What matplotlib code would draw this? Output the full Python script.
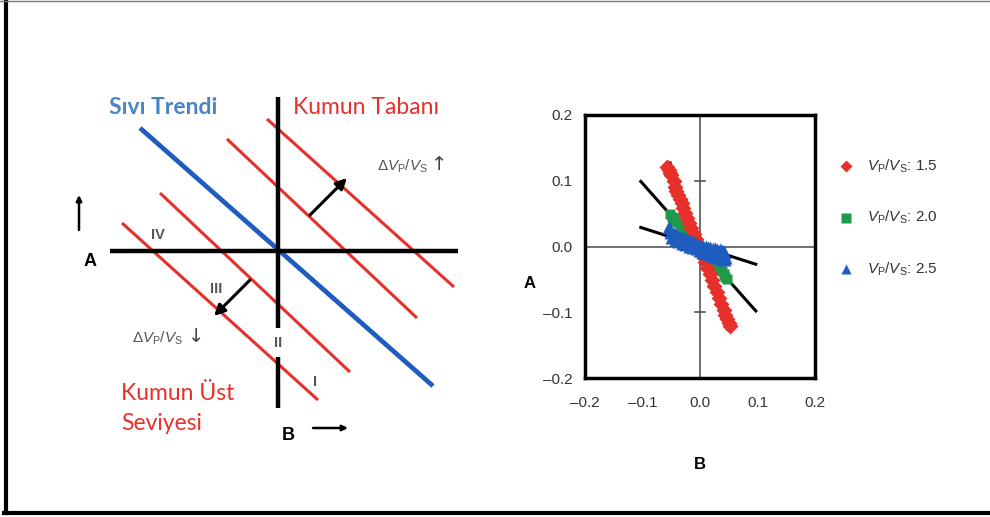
import matplotlib.pyplot as plt
from matplotlib.lines import Line2D

plt.rcParams['mathtext.fontset'] = 'custom'
plt.rcParams['mathtext.rm'] = 'Liberation Sans'
plt.rcParams['mathtext.it'] = 'Liberation Sans:italic'
plt.rcParams['mathtext.bf'] = 'Liberation Sans:bold'
plt.rcParams['font.family'] = ['Liberation Sans', 'DejaVu Sans']

# ---- şematik (sol panel) ----
eksen_yatay = ([-1.68, 1.80], [0.0, 0.0])
eksen_dikey_ust = ([0.0, 0.0], [1.54, -0.77])
eksen_dikey_alt = ([0.0, 0.0], [-1.06, -1.57])
sivi_trend = ([-1.38, 1.55], [1.23, -1.35])
kum_cizgileri = [
    ([-0.11, 1.76], [1.32, -0.36]),
    ([-0.51, 1.39], [1.12, -0.67]),
    ([-1.18, 0.72], [0.58, -1.21]),
    ([-1.56, 0.40], [0.28, -1.49]),
]
ok_artis = ((0.32, 0.36), (0.69, 0.73))
ok_azalis = ((-0.28, -0.29), (-0.64, -0.65))
bolge_adlari = ['IV', 'III', 'II', 'I']
bolge_x = [-1.20, -0.62, 0.0, 0.37]
bolge_y = [0.16, -0.38, -0.92, -1.31]

# ---- Vp/Vs verileri (sağ panel) ----
kirmizi_x = [-0.057, -0.054, -0.052, -0.050, -0.046, -0.043, -0.041, -0.038, -0.035,
             -0.032, -0.029, -0.026, -0.022, -0.019, -0.015, -0.011, -0.007, -0.003,
             0.001, 0.005, 0.009, 0.013, 0.017, 0.021, 0.025, 0.029, 0.033, 0.037,
             0.041, 0.044, 0.047, 0.050, 0.052]
kirmizi_y = [0.121, 0.117, 0.112, 0.108, 0.100, 0.090, 0.084, 0.079, 0.072,
             0.066, 0.058, 0.051, 0.044, 0.036, 0.028, 0.019, 0.011, 0.002,
             -0.006, -0.015, -0.024, -0.033, -0.042, -0.051, -0.060, -0.069, -0.079, -0.088,
             -0.097, -0.104, -0.110, -0.116, -0.121]
yesil_x = [-0.052, -0.049, -0.046, -0.043, -0.040, -0.037, -0.034, -0.031, -0.028,
           -0.025, -0.022, -0.018, -0.014, -0.010, -0.006, -0.002, 0.002, 0.006,
           0.010, 0.014, 0.018, 0.022, 0.026, 0.030, 0.034, 0.038, 0.041, 0.044, 0.047]
yesil_y = [0.050, 0.045, 0.044, 0.041, 0.038, 0.037, 0.033, 0.030, 0.028,
           0.024, 0.021, 0.017, 0.013, 0.009, 0.005, 0.001, -0.003, -0.007,
           -0.011, -0.014, -0.019, -0.022, -0.026, -0.030, -0.034, -0.038, -0.042, -0.046, -0.049]
mavi_x = [-0.054, -0.050, -0.046, -0.042, -0.038, -0.034, -0.030, -0.026, -0.022,
          -0.018, -0.014, -0.010, -0.006, -0.002, 0.002, 0.006, 0.010, 0.014,
          0.018, 0.022, 0.026, 0.030, 0.034, 0.038, 0.042,
          -0.048, -0.042, -0.036, -0.030, -0.024, -0.018, -0.012, -0.006, 0.000,
          0.006, 0.012, 0.018, 0.024, 0.030, 0.036, 0.041, 0.044]
mavi_y = [0.030, 0.022, 0.019, 0.017, 0.015, 0.014, 0.013, 0.011, 0.010,
          0.008, 0.007, 0.006, 0.004, 0.003, 0.001, 0.000, -0.001, -0.002,
          -0.003, -0.004, -0.004, -0.005, -0.006, -0.007, -0.008,
          0.014, 0.011, 0.008, 0.006, 0.004, 0.001, -0.001, -0.003, -0.005,
          -0.008, -0.010, -0.012, -0.014, -0.016, -0.017, -0.019, -0.016]
# regresyon doğruları (uç noktalar)
dogru_x = [[-0.052, 0.047], [-0.103, 0.097], [-0.103, 0.097]]
dogru_y = [[0.127, -0.125], [0.099, -0.098], [0.029, -0.027]]
oranlar = ['1.5', '2.0', '2.5']
tikler = [-0.2, -0.1, 0.0, 0.1, 0.2]

KIRMIZI = '#e8302a'
MAVI = '#1f5cbf'
YESIL = '#1f9a4a'
GRI = '#333333'

fig = plt.figure(figsize=(9.9, 5.17), dpi=100)

# çerçeve
fig.add_artist(Line2D([6/990, 6/990], [1 - 2/517, 1 - 513/517], color='k', lw=3))
fig.add_artist(Line2D([4/990, 1], [1 - 513/517, 1 - 513/517], color='k', lw=3))
fig.add_artist(Line2D([0, 1], [1 - 1/517, 1 - 1/517], color='#777777', lw=1))

axL = fig.add_axes([60/990, 67/517, 410/990, 370/517])
axL.set_xlim(-2.18, 1.92)
axL.set_ylim(-1.99, 1.71)
axL.axis('off')

for xs, ys in kum_cizgileri:
    axL.plot(xs, ys, color=KIRMIZI, lw=2.2, solid_capstyle='butt')
axL.plot(*sivi_trend, color=MAVI, lw=3.4, solid_capstyle='butt')
for seg in (eksen_yatay, eksen_dikey_ust, eksen_dikey_alt):
    axL.plot(*seg, color='k', lw=3.2, solid_capstyle='butt')

for bas, son in (ok_artis, ok_azalis):
    axL.annotate('', xy=son, xytext=bas,
                 arrowprops=dict(arrowstyle='-|>', lw=2.2, color='k', mutation_scale=16,
                                 shrinkA=0, shrinkB=0))
# eksen yön okları
axL.annotate('', xy=(-1.99, 0.56), xytext=(-1.99, 0.21),
             arrowprops=dict(arrowstyle='-|>', lw=1.8, color='k', mutation_scale=8,
                             shrinkA=0, shrinkB=0))
axL.annotate('', xy=(0.70, -1.77), xytext=(0.35, -1.77),
             arrowprops=dict(arrowstyle='-|>', lw=1.8, color='k', mutation_scale=8,
                             shrinkA=0, shrinkB=0))

for ad, bx, by in zip(bolge_adlari, bolge_x, bolge_y):
    axL.text(bx, by, ad, color='#555555', fontsize=10.5, fontweight='bold',
             ha='center', va='center')

axL.text(-1.15, 1.43, 'Sıvı Trendi', color='#4a84c6', fontsize=16.5, fontweight='bold',
         family='Lato', ha='center', va='center')
axL.text(0.88, 1.43, 'Kumun Tabanı', color=KIRMIZI, fontsize=16.5, family='Lato',
         ha='center', va='center')
axL.text(-1.57, -1.42, 'Kumun Üst', color=KIRMIZI, fontsize=16.5, family='Lato',
         ha='left', va='center')
axL.text(-1.57, -1.72, 'Seviyesi', color=KIRMIZI, fontsize=16.5, family='Lato',
         ha='left', va='center')
axL.text(-1.88, -0.11, 'A', fontsize=13, fontweight='bold', ha='center', va='center')
axL.text(0.10, -1.84, 'B', fontsize=13, fontweight='bold', ha='center', va='center')
axL.text(0.99, 0.85, r'$\Delta V_{\rm P}/V_{\rm S}$', color='#555555', fontsize=11,
         ha='left', va='center')
axL.text(1.61, 0.87, '↑', color='#444444', fontsize=14, family='DejaVu Sans',
         ha='center', va='center')
axL.text(-1.46, -0.87, r'$\Delta V_{\rm P}/V_{\rm S}$', color='#555555', fontsize=11,
         ha='left', va='center')
axL.text(-0.82, -0.85, '↓', color='#444444', fontsize=14, family='DejaVu Sans',
         ha='center', va='center')

# ---- sağ panel ----
axR = fig.add_axes([585/990, 139/517, 230/990, 263/517])
axR.set_xlim(-0.2, 0.2)
axR.set_ylim(-0.2, 0.2)
for sp in axR.spines.values():
    sp.set_linewidth(2.5)
axR.axhline(0, color='#555555', lw=1.2, zorder=1)
axR.axvline(0, color='#555555', lw=1.2, zorder=1)
for ty in (0.1, -0.1):
    axR.plot([-0.008, 0.008], [ty, ty], color='#555555', lw=1.2, zorder=1)

for xs, ys in zip(dogru_x, dogru_y):
    axR.plot(xs, ys, color='k', lw=2.2, zorder=2)
axR.plot(yesil_x, yesil_y, 's', color=YESIL, ms=7.5, mec='none', zorder=3)
axR.plot(kirmizi_x, kirmizi_y, 'D', color=KIRMIZI, ms=8, mec='none', zorder=4)
axR.plot(mavi_x, mavi_y, '^', color=MAVI, ms=10, mec='none', zorder=5)

etiketler = [('%.1f' % t).replace('-', '–') for t in tikler]
axR.set_xticks(tikler)
axR.set_xticklabels(etiketler)
axR.set_yticks(tikler)
axR.set_yticklabels(etiketler)
axR.tick_params(length=0, labelsize=11, labelcolor=GRI)
axR.tick_params(axis='x', pad=13)
axR.tick_params(axis='y', pad=9)
for lab in axR.get_xticklabels() + axR.get_yticklabels():
    lab.set_family(['Liberation Sans Narrow', 'Liberation Sans'])

axR.text(-0.296, -0.056, 'A', fontsize=12, fontweight='bold', ha='center', va='center',
         clip_on=False)
axR.text(0.0, -0.331, 'B', fontsize=12, fontweight='bold', ha='center', va='center',
         clip_on=False)

# açıklama kutusu elle çiziliyor
isaretler = ['D', 's', '^']
renkler = [KIRMIZI, YESIL, MAVI]
satir_y = [0.122, 0.044, -0.034]
for isaret, renk, yy, oran in zip(isaretler, renkler, satir_y, oranlar):
    axR.plot([0.254], [yy], isaret, color=renk, ms=6.5, mec='none', clip_on=False)
    axR.text(0.29, yy, r'$V_{\rm P}/V_{\rm S}$: ' + oran, fontsize=11, color=GRI,
             ha='left', va='center', clip_on=False)

fig.savefig('out.png', dpi=100)
